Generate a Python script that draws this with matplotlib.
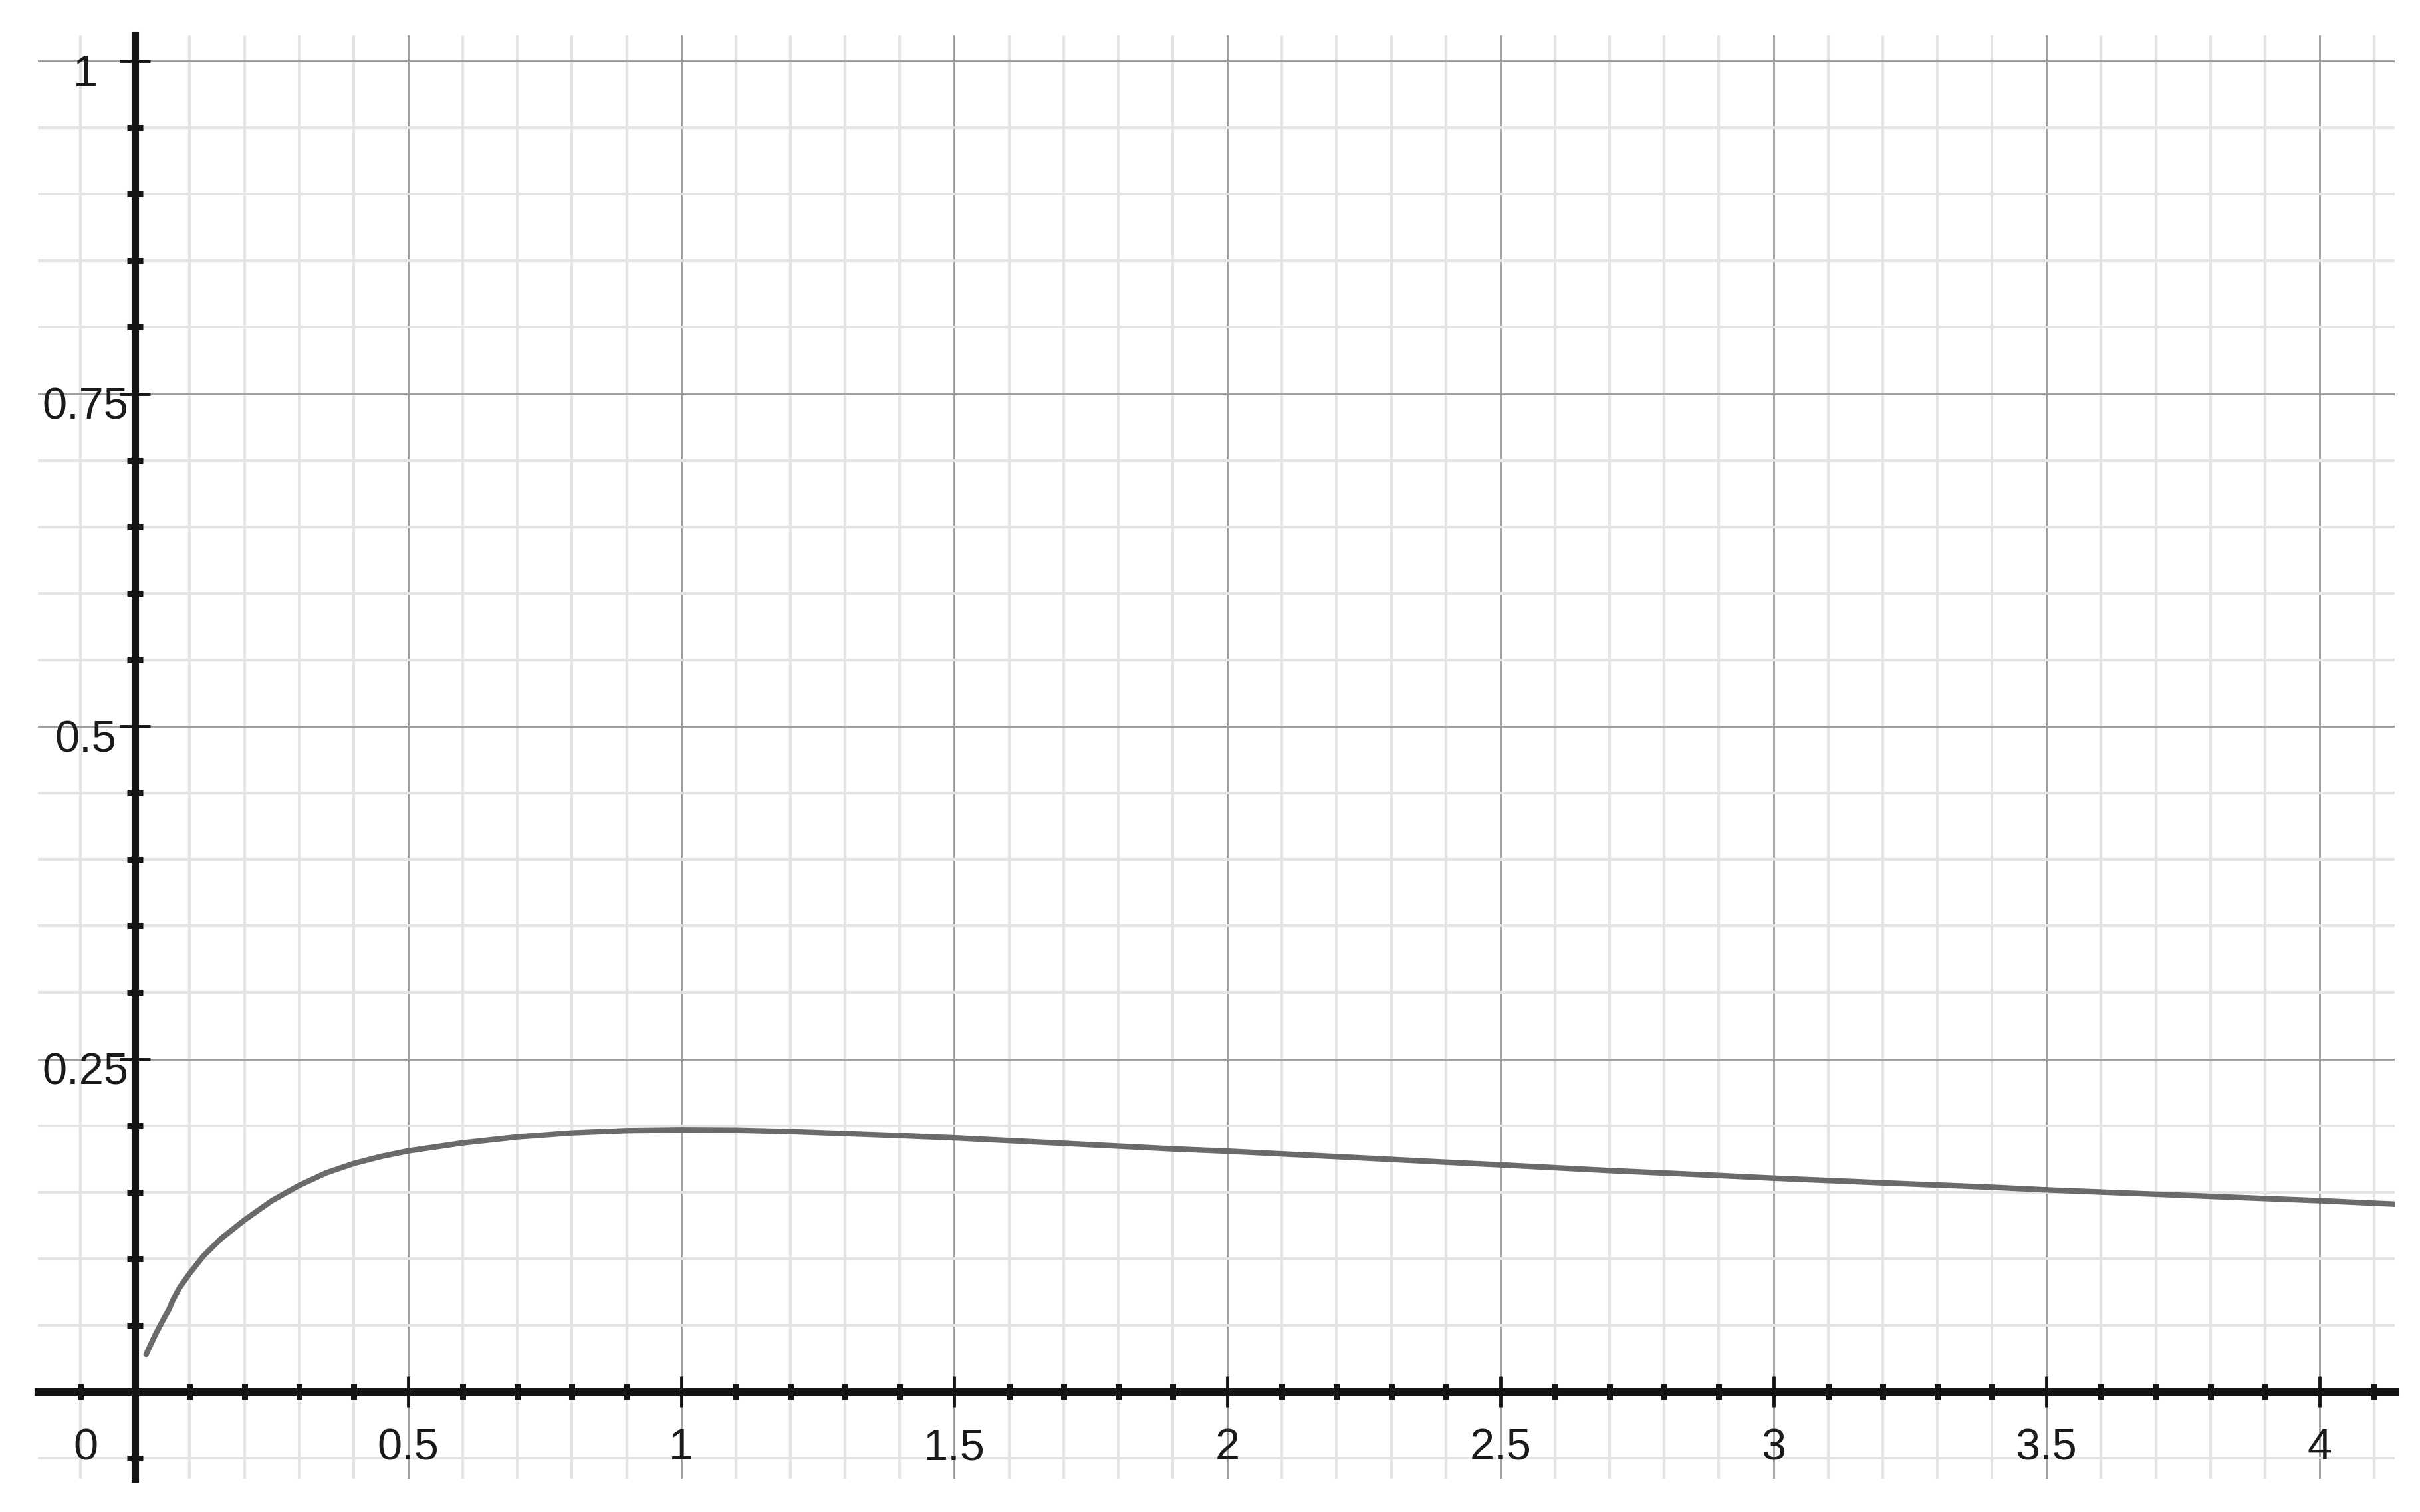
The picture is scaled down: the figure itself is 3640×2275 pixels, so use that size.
import matplotlib
matplotlib.use('Agg')  # no display
import matplotlib.pyplot as plt
from matplotlib.ticker import MultipleLocator

# points
curve_x = [0.02, 0.037, 0.055, 0.062, 0.068, 0.081, 0.1, 0.125, 0.157, 0.2,
           0.25, 0.3, 0.35, 0.4, 0.45, 0.5, 0.6, 0.7, 0.8, 0.9,
           1.0, 1.1, 1.2, 1.4, 1.5, 1.7, 1.9, 2.0, 2.2, 2.4,
           2.5, 2.7, 2.9, 3.0, 3.2, 3.4, 3.5, 4.0, 4.138]
curve_y = [0.028, 0.043, 0.057, 0.062, 0.068, 0.078, 0.089, 0.102, 0.115, 0.129,
           0.1435, 0.155, 0.1645, 0.1715, 0.1768, 0.181, 0.187, 0.1915, 0.1945, 0.1962,
           0.1967, 0.1965, 0.1955, 0.1925, 0.1908, 0.1867, 0.1825, 0.1808, 0.1767, 0.1725,
           0.1705, 0.1662, 0.1625, 0.1605, 0.157, 0.1537, 0.1517, 0.1436, 0.141]

x_ticks = [0.5, 1, 1.5, 2, 2.5, 3, 3.5, 4]
x_labels = ['0.5', '1', '1.5', '2', '2.5', '3', '3.5', '4']
y_ticks = [0.25, 0.5, 0.75, 1]
y_labels = ['0.25', '0.5', '0.75', '1']

plt.rcParams['font.family'] = ['Liberation Sans', 'DejaVu Sans']

fig = plt.figure(figsize=(36.41, 22.75), dpi=100)
ax = fig.add_axes([0.01574, 0.02198, 0.97364, 0.95473])
ax.set_xlim(-0.1777, 4.138)
ax.set_ylim(-0.0654, 1.0195)

ax.xaxis.set_major_locator(MultipleLocator(0.5))
ax.xaxis.set_minor_locator(MultipleLocator(0.1))
ax.yaxis.set_major_locator(MultipleLocator(0.25))
ax.yaxis.set_minor_locator(MultipleLocator(0.05))

# grid paper look
ax.set_axisbelow(True)
ax.grid(which='minor', color='#e4e4e4', linewidth=3)
ax.grid(which='major', color='#9a9a9a', linewidth=2)

# axes through the origin
for s in ['top', 'right']:
    ax.spines[s].set_visible(False)
for s in ['left', 'bottom']:
    ax.spines[s].set_position(('data', 0))
    ax.spines[s].set_linewidth(8)
    ax.spines[s].set_color('#151515')

ax.tick_params(which='major', direction='inout', length=33, width=3.5,
               color='#151515', labelbottom=False, labelleft=False)
ax.tick_params(which='minor', direction='inout', length=17, width=6.5,
               color='#151515')

ax.plot(curve_x, curve_y, color='#6a6a6a', linewidth=6,
        solid_capstyle='round', solid_joinstyle='round', zorder=3)

# tick labels
lab = dict(ha='center', va='center_baseline', fontsize=48, color='#1a1a1a')
for v, s in zip(x_ticks, x_labels):
    ax.text(v, -0.039, s, **lab)
ax.text(-0.091, -0.039, '0', **lab)
for v, s in zip(y_ticks, y_labels):
    ax.text(-0.091, v - 0.007, s, **lab)

fig.savefig('out.png', dpi=100)
